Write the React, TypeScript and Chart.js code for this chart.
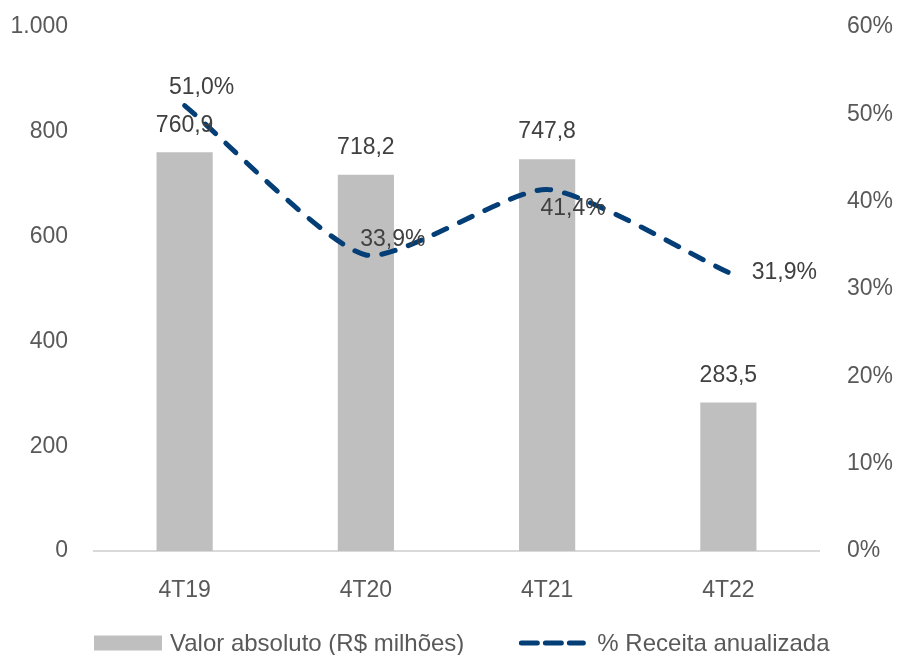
import React, { useEffect, useRef } from "react";
import { Chart, registerables } from "chart.js";

Chart.register(...registerables);

const categories = ["4T19", "4T20", "4T21", "4T22"];
const valorAbsoluto = [760.9, 718.2, 747.8, 283.5];
const receitaPct = [51.0, 33.9, 41.4, 31.9];
const leftAxis = { min: 0, max: 1000, step: 200 };
const rightAxis = { min: 0, max: 60, step: 10 };
const barLabel = "Valor absoluto (R$ milhões)";
const lineLabel = "% Receita anualizada";

// label offsets (style) for the line data labels, relative to each point
const lineLabelOffsets = [
  [17, -18],
  [27, -15],
  [26, 19],
  [56, 0],
];

const FONT = "'Liberation Sans', Arial, sans-serif";
const BAR_COLOR = "#BFBFBF";
const LINE_COLOR = "#033E76";
const TICK_COLOR = "#595959";
const LABEL_COLOR = "#404040";
const FS = 23;

const fmtDec = (v: number) => v.toFixed(1).replace(".", ",");
const fmtThousands = (v: number) =>
  String(Math.round(v)).replace(/\B(?=(\d{3})+(?!\d))/g, ".");

const labelsPlugin = {
  id: "labelsPlugin",
  afterDatasetsDraw(chart: any) {
    const ctx = chart.ctx;
    ctx.save();
    ctx.font = `${FS}px ${FONT}`;
    ctx.fillStyle = LABEL_COLOR;
    ctx.textAlign = "center";
    ctx.textBaseline = "middle";
    chart.data.datasets.forEach((ds: any, i: number) => {
      const meta = chart.getDatasetMeta(i);
      meta.data.forEach((el: any, j: number) => {
        if (ds.type === "bar") {
          ctx.fillText(fmtDec(ds.data[j]), el.x, el.y - 27);
        } else {
          const [dx, dy] = lineLabelOffsets[j];
          ctx.fillText(fmtDec(ds.data[j]) + "%", el.x + dx, el.y + dy);
        }
      });
    });
    ctx.restore();
  },
};

const legendPlugin = {
  id: "customLegend",
  afterDraw(chart: any) {
    const ctx = chart.ctx;
    const y = 643;
    ctx.save();
    ctx.font = `24px ${FONT}`;
    ctx.textBaseline = "middle";
    ctx.textAlign = "left";
    let x = chart.chartArea.left;
    ctx.fillStyle = BAR_COLOR;
    ctx.fillRect(x, y - 7.5, 68, 15);
    x += 76;
    ctx.fillStyle = TICK_COLOR;
    ctx.fillText(barLabel, x, y + 1);
    x += ctx.measureText(barLabel).width + 57;
    ctx.strokeStyle = LINE_COLOR;
    ctx.lineWidth = 5;
    ctx.lineCap = "round";
    ctx.setLineDash([16, 8]);
    ctx.beginPath();
    ctx.moveTo(x, y);
    ctx.lineTo(x + 62, y);
    ctx.stroke();
    ctx.setLineDash([]);
    x += 76;
    ctx.fillText(lineLabel, x, y + 1);
    ctx.restore();
  },
};

export default function App() {
  const ref = useRef<HTMLCanvasElement>(null);
  useEffect(() => {
    if (!ref.current) return;
    const chart = new Chart(ref.current, {
      type: "bar",
      data: {
        labels: categories,
        datasets: [
          {
            type: "line",
            label: lineLabel,
            data: receitaPct,
            yAxisID: "y1",
            borderColor: LINE_COLOR,
            backgroundColor: LINE_COLOR,
            borderWidth: 5,
            borderDash: [14, 14],
            borderCapStyle: "round",
            pointRadius: 0,
            tension: 0.2,
            order: 0,
          } as any,
          {
            type: "bar",
            label: barLabel,
            data: valorAbsoluto,
            yAxisID: "y",
            backgroundColor: BAR_COLOR,
            barPercentage: 0.31,
            categoryPercentage: 1,
            order: 1,
          } as any,
        ],
      },
      options: {
        responsive: false,
        animation: false,
        layout: { padding: { top: 27, left: 0, right: 0, bottom: 0 } },
        plugins: {
          legend: { display: false },
          tooltip: { enabled: false },
        },
        scales: {
          x: {
            grid: { display: false, drawTicks: false },
            border: { display: true, color: "#D9D9D9", width: 2 },
            ticks: {
              color: TICK_COLOR,
              font: { family: FONT, size: FS },
              padding: 26,
            },
            afterFit: (s: any) => {
              s.height = 104;
            },
          },
          y: {
            position: "left",
            min: leftAxis.min,
            max: leftAxis.max,
            grid: { display: false, drawTicks: false },
            border: { display: false },
            ticks: {
              stepSize: leftAxis.step,
              color: TICK_COLOR,
              font: { family: FONT, size: FS },
              padding: 26,
              callback: (v: any) => fmtThousands(Number(v)),
            },
            afterFit: (s: any) => {
              s.width = 94;
              s.paddingTop = 0;
              s.paddingBottom = 0;
            },
          },
          y1: {
            position: "right",
            min: rightAxis.min,
            max: rightAxis.max,
            grid: { display: false, drawTicks: false },
            border: { display: false },
            ticks: {
              stepSize: rightAxis.step,
              color: TICK_COLOR,
              font: { family: FONT, size: FS },
              padding: 28,
              callback: (v: any) => `${v}%`,
            },
            afterFit: (s: any) => {
              s.width = 84;
              s.paddingTop = 0;
              s.paddingBottom = 0;
            },
          },
        },
      } as any,
      plugins: [labelsPlugin, legendPlugin],
    });
    return () => chart.destroy();
  }, []);
  return (
    <div style={{ position: "fixed", left: 0, top: 0, width: 903, height: 655, background: "#fff" }}>
      <canvas ref={ref} width={903} height={655} />
    </div>
  );
}
